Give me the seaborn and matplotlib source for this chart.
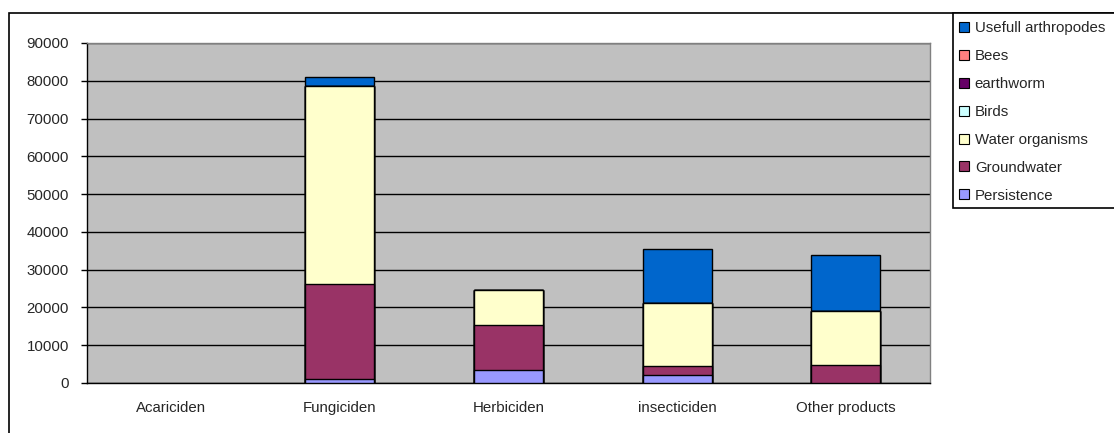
import pandas as pd
import matplotlib.pyplot as plt
import seaborn as sns
from matplotlib.patches import Rectangle


categories = ['Acariciden', 'Fungiciden', 'Herbiciden', 'insecticiden', 'Other products']

# stacked from bottom to top
persistence = [0, 1100, 3400, 2100, 0]
groundwater = [0, 25100, 11900, 2400, 4800]
water_organisms = [0, 52400, 9300, 16700, 14300]
birds = [0, 0, 0, 0, 0]
earthworm = [0, 0, 0, 0, 0]
bees = [0, 0, 0, 0, 0]
usefull_arthropodes = [0, 2500, 0, 14200, 14900]

series = ['Persistence', 'Groundwater', 'Water organisms', 'Birds', 'earthworm', 'Bees', 'Usefull arthropodes']
colors = ['#9999FF', '#993366', '#FFFFCC', '#CCFFFF', '#660066', '#FF8080', '#0066CC']

df = pd.DataFrame({
    'Persistence': persistence,
    'Groundwater': groundwater,
    'Water organisms': water_organisms,
    'Birds': birds,
    'earthworm': earthworm,
    'Bees': bees,
    'Usefull arthropodes': usefull_arthropodes,
}, index=categories)
cum = df[series].cumsum(axis=1)
cum['Category'] = categories

sns.set_style('white')
plt.rcParams['font.family'] = ['Liberation Sans', 'DejaVu Sans']
plt.rcParams['font.size'] = 10.8

fig = plt.figure(figsize=(11.14, 4.33), dpi=100)
ax = fig.add_axes([87 / 1114, 1 - 383 / 433, (930 - 87) / 1114, (383 - 43) / 433])
ax.set_facecolor('#C0C0C0')

# draw tallest cumulative first, lower stacks on top
for name, col in zip(series[::-1], colors[::-1]):
    sns.barplot(data=cum, x='Category', y=name, color=col, width=0.41,
                edgecolor='black', linewidth=1.0, saturation=1, ax=ax, zorder=3)

# hide outlines of empty bars
for p in ax.patches:
    if p.get_height() == 0:
        p.set_linewidth(0)

ax.set_ylim(0, 90000)
ax.set_xlim(-0.5, 4.5)
ax.set_yticks(range(0, 90001, 10000))
ax.set_yticklabels([str(v) for v in range(0, 90001, 10000)])
ax.yaxis.grid(True, color='black', linewidth=1, zorder=0)
ax.set_axisbelow(True)
ax.set_xlabel('')
ax.set_ylabel('')
ax.set_xticks([-0.5, 0.5, 1.5, 2.5, 3.5, 4.5], minor=True)
ax.tick_params(axis='x', which='major', length=0, pad=13)
ax.tick_params(axis='x', which='minor', length=4, width=1, color='black', direction='out')
ax.tick_params(axis='y', length=4, width=1, color='black', direction='out', pad=9, left=True)
for s in ['left', 'bottom']:
    ax.spines[s].set_color('black')
    ax.spines[s].set_linewidth(1)
for s in ['top', 'right']:
    ax.spines[s].set_visible(True)
    ax.spines[s].set_color('#808080')
    ax.spines[s].set_linewidth(1)

# outer chart frame and legend box
fig.patches.append(Rectangle((9 / 1114, -0.1), 1.2, 1 - 13 / 433 + 0.1, transform=fig.transFigure,
                             fill=False, edgecolor='black', linewidth=1.2))
fig.patches.append(Rectangle((953 / 1114, 1 - 208 / 433), 0.2, (208 - 13) / 433, transform=fig.transFigure,
                             facecolor='white', edgecolor='black', linewidth=1.2, zorder=5))

handles = [Rectangle((0, 0), 1, 1, facecolor=c, edgecolor='black', linewidth=0.8) for c in colors[::-1]]
leg = fig.legend(handles, series[::-1], loc='upper left', bbox_to_anchor=(953 / 1114, 1 - 15 / 433),
                 frameon=False, fontsize=10.8, handlelength=0.65, handleheight=0.65,
                 handletextpad=0.4, labelspacing=0.93, borderaxespad=0)
leg.set_zorder(6)

fig.savefig('out.png', dpi=100)
